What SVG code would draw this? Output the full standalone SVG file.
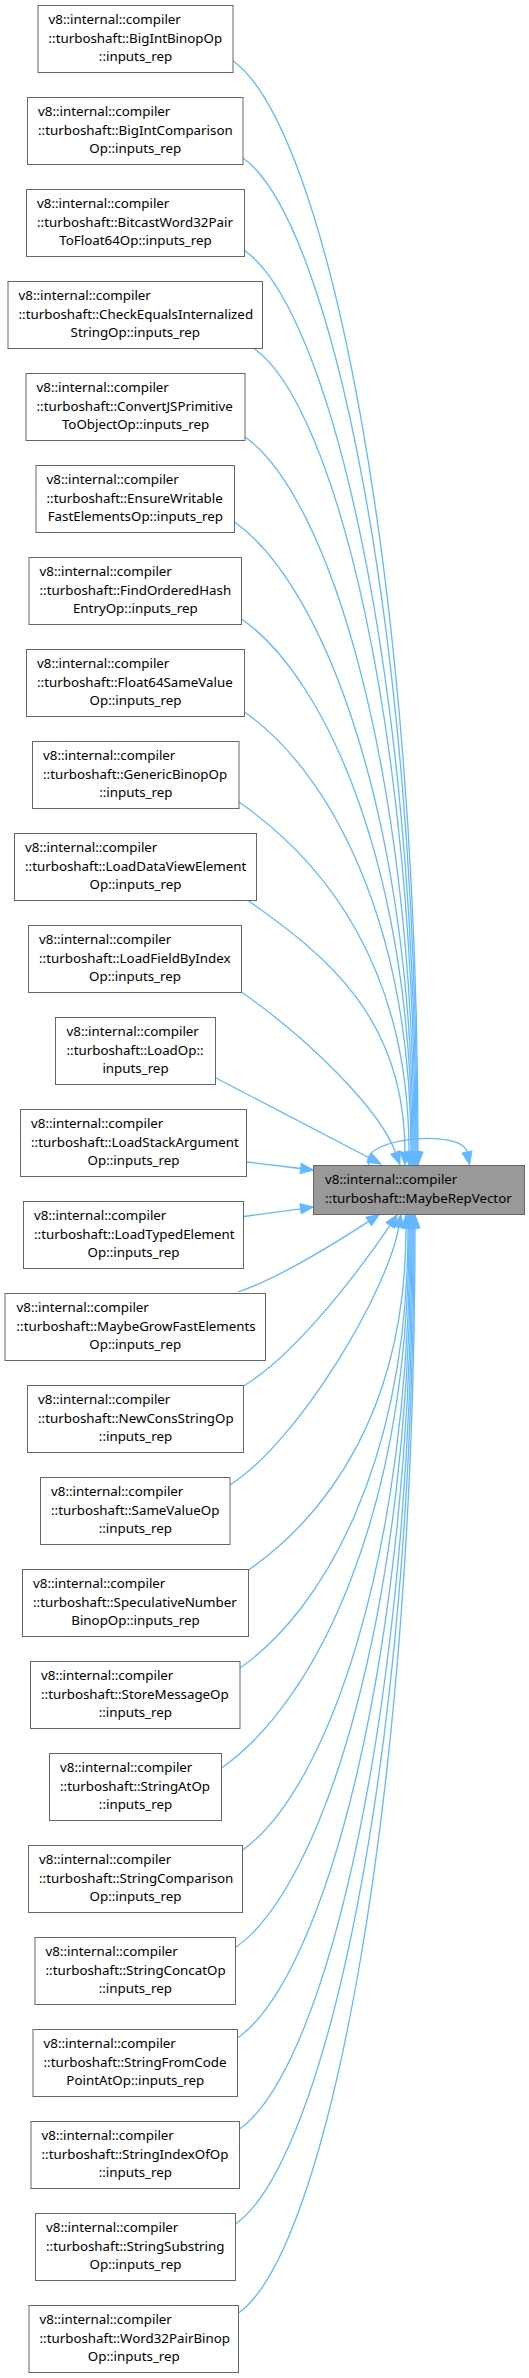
<svg xmlns="http://www.w3.org/2000/svg" width="529" height="2378" viewBox="0 0 529 2378">
<style>
.n rect{fill:#fff;stroke:#666;stroke-width:1}
.t rect{fill:#999;stroke:#666;stroke-width:1}
text{font-family:"Noto Sans","Open Sans","DejaVu Sans",sans-serif;font-size:13.33px;fill:#000}
.c{text-anchor:middle}
.e path{fill:none;stroke:#63b8ff;stroke-width:1.3;marker-end:url(#ah)}
</style>
<defs>
<marker id="ah" markerUnits="userSpaceOnUse" viewBox="0 0 13 10" markerWidth="13" markerHeight="10" refX="0" refY="5" orient="auto" overflow="visible">
<path d="M0,0 L13,5 L0,10 z" fill="#63b8ff" stroke="#63b8ff" stroke-width="1"/>
</marker>
</defs>
<rect width="529" height="2378" fill="#fff"/>
<g id="edges" class="e">
<path d="M233,61 C325.5,125.8 418,573.8 418,1152"/>
<path d="M243,158 C330,218.9 417,625.2 417,1152"/>
<path d="M244.5,250.5 C330.3,310.5 416,674.2 416,1152"/>
<path d="M254,348.5 C334.5,404.9 415,726.1 415,1152"/>
<path d="M245,437 C329.5,496.2 414,773 414,1152"/>
<path d="M234.5,522 C323.8,584.5 413,818.1 413,1152"/>
<path d="M241.5,619 C326.8,678.7 412,869.5 412,1152"/>
<path d="M244.5,712 C327.8,770.3 411,918.8 411,1152"/>
<path d="M239,802 C324,861.5 409,966.5 409,1152"/>
<path d="M248,900.5 C326.5,955.5 405,1018.7 405,1152"/>
<path d="M241.5,992 C310,1040 380,1110 395.5,1152.5"/>
<path d="M214,1077 L369.5,1158"/>
<path d="M246.5,1162 L300.6,1168.5"/>
<path d="M244,1216.5 L300.6,1208.8"/>
<path d="M238,1292 C280,1278 340,1240 368.7,1221.4"/>
<path d="M243.5,1386 C300,1352 365,1262 390.1,1225.3"/>
<path d="M230,1485 C300,1440 388,1290 398.7,1227.3"/>
<path d="M248.5,1570 C327.3,1514.9 406,1409.3 406,1228"/>
<path d="M240,1668 C324,1609.2 408,1461.2 408,1228"/>
<path d="M221.5,1768 C315.3,1702.4 409,1514.2 409,1228"/>
<path d="M242.5,1850 C326.3,1791.4 410,1557.7 410,1228"/>
<path d="M235.5,1947.5 C323.3,1886.1 411,1609.3 411,1228"/>
<path d="M237.5,2038 C324.8,1976.9 412,1657.3 412,1228"/>
<path d="M239.5,2129 C326.3,2068.3 413,1705.5 413,1228"/>
<path d="M235.5,2224 C324.8,2161.5 414,1755.9 414,1228"/>
<path d="M238.5,2313 C326.8,2251.2 415,1803.1 415,1228"/>
<path d="M369,1165 C356,1138 462,1128 467,1152"/>
</g>
<g id="target" class="t">
<rect x="313.5" y="1165.5" width="211" height="49"/>
<text x="325" y="1184">v8::internal::compiler</text>
<text x="325" y="1202.7">::turboshaft::MaybeRepVector</text>
</g>
<g id="n0" class="n"><rect x="38" y="5.5" width="195" height="67"/><text x="48.5" y="24">v8::internal::compiler</text><text x="48.5" y="42.7">::turboshaft::BigIntBinopOp</text><text class="c" x="135.5" y="61.4">::inputs_rep</text></g>
<g id="n1" class="n"><rect x="27.5" y="97.5" width="215.5" height="67"/><text x="38" y="116">v8::internal::compiler</text><text x="38" y="134.7">::turboshaft::BigIntComparison</text><text class="c" x="135.3" y="153.4">Op::inputs_rep</text></g>
<g id="n2" class="n"><rect x="26.5" y="189.5" width="218" height="67"/><text x="37" y="208">v8::internal::compiler</text><text x="37" y="226.7">::turboshaft::BitcastWord32Pair</text><text class="c" x="135.5" y="245.4">ToFloat64Op::inputs_rep</text></g>
<g id="n3" class="n"><rect x="8" y="281.5" width="254.5" height="67"/><text x="18.5" y="300">v8::internal::compiler</text><text x="18.5" y="318.7">::turboshaft::CheckEqualsInternalized</text><text class="c" x="135.3" y="337.4">StringOp::inputs_rep</text></g>
<g id="n4" class="n"><rect x="26" y="373.5" width="219" height="67"/><text x="36.5" y="392">v8::internal::compiler</text><text x="36.5" y="410.7">::turboshaft::ConvertJSPrimitive</text><text class="c" x="135.5" y="429.4">ToObjectOp::inputs_rep</text></g>
<g id="n5" class="n"><rect x="36" y="465.5" width="198.5" height="67"/><text x="46.5" y="484">v8::internal::compiler</text><text x="46.5" y="502.7">::turboshaft::EnsureWritable</text><text class="c" x="135.3" y="521.4">FastElementsOp::inputs_rep</text></g>
<g id="n6" class="n"><rect x="29" y="557.5" width="212.5" height="67"/><text x="39.5" y="576">v8::internal::compiler</text><text x="39.5" y="594.7">::turboshaft::FindOrderedHash</text><text class="c" x="135.3" y="613.4">EntryOp::inputs_rep</text></g>
<g id="n7" class="n"><rect x="26.5" y="649.5" width="218" height="67"/><text x="37" y="668">v8::internal::compiler</text><text x="37" y="686.7">::turboshaft::Float64SameValue</text><text class="c" x="135.5" y="705.4">Op::inputs_rep</text></g>
<g id="n8" class="n"><rect x="32.5" y="741.5" width="206.5" height="67"/><text x="43" y="760">v8::internal::compiler</text><text x="43" y="778.7">::turboshaft::GenericBinopOp</text><text class="c" x="135.8" y="797.4">::inputs_rep</text></g>
<g id="n9" class="n"><rect x="14.5" y="833.5" width="242" height="67"/><text x="25" y="852">v8::internal::compiler</text><text x="25" y="870.7">::turboshaft::LoadDataViewElement</text><text class="c" x="135.5" y="889.4">Op::inputs_rep</text></g>
<g id="n10" class="n"><rect x="28.5" y="925.5" width="213" height="67"/><text x="39" y="944">v8::internal::compiler</text><text x="39" y="962.7">::turboshaft::LoadFieldByIndex</text><text class="c" x="135" y="981.4">Op::inputs_rep</text></g>
<g id="n11" class="n"><rect x="55.5" y="1017.5" width="160" height="67"/><text x="66.5" y="1036">v8::internal::compiler</text><text x="66.5" y="1054.7">::turboshaft::LoadOp::</text><text class="c" x="135.5" y="1073.4">inputs_rep</text></g>
<g id="n12" class="n"><rect x="20.5" y="1109.5" width="226" height="67"/><text x="31" y="1128">v8::internal::compiler</text><text x="31" y="1146.7">::turboshaft::LoadStackArgument</text><text class="c" x="133.5" y="1165.4">Op::inputs_rep</text></g>
<g id="n13" class="n"><rect x="23.5" y="1201.5" width="220" height="67"/><text x="34" y="1220">v8::internal::compiler</text><text x="34" y="1238.7">::turboshaft::LoadTypedElement</text><text class="c" x="133.5" y="1257.4">Op::inputs_rep</text></g>
<g id="n14" class="n"><rect x="5" y="1293.5" width="260.5" height="67"/><text x="16.5" y="1312">v8::internal::compiler</text><text x="16.5" y="1330.7">::turboshaft::MaybeGrowFastElements</text><text class="c" x="135.3" y="1349.4">Op::inputs_rep</text></g>
<g id="n15" class="n"><rect x="27.5" y="1385.5" width="216" height="67"/><text x="38" y="1404">v8::internal::compiler</text><text x="38" y="1422.7">::turboshaft::NewConsStringOp</text><text class="c" x="135.5" y="1441.4">::inputs_rep</text></g>
<g id="n16" class="n"><rect x="40.5" y="1477.5" width="189.5" height="67"/><text x="51" y="1496">v8::internal::compiler</text><text x="51" y="1514.7">::turboshaft::SameValueOp</text><text class="c" x="135.3" y="1533.4">::inputs_rep</text></g>
<g id="n17" class="n"><rect x="22.5" y="1569.5" width="226" height="67"/><text x="33" y="1588">v8::internal::compiler</text><text x="33" y="1606.7">::turboshaft::SpeculativeNumber</text><text class="c" x="135.5" y="1625.4">BinopOp::inputs_rep</text></g>
<g id="n18" class="n"><rect x="30.5" y="1661.5" width="209.5" height="67"/><text x="41" y="1680">v8::internal::compiler</text><text x="41" y="1698.7">::turboshaft::StoreMessageOp</text><text class="c" x="135.3" y="1717.4">::inputs_rep</text></g>
<g id="n19" class="n"><rect x="49.5" y="1753.5" width="172" height="67"/><text x="60" y="1772">v8::internal::compiler</text><text x="60" y="1790.7">::turboshaft::StringAtOp</text><text class="c" x="135.5" y="1809.4">::inputs_rep</text></g>
<g id="n20" class="n"><rect x="28.5" y="1845.5" width="214" height="67"/><text x="39" y="1864">v8::internal::compiler</text><text x="39" y="1882.7">::turboshaft::StringComparison</text><text class="c" x="135.5" y="1901.4">Op::inputs_rep</text></g>
<g id="n21" class="n"><rect x="35" y="1937.5" width="200.5" height="67"/><text x="45.5" y="1956">v8::internal::compiler</text><text x="45.5" y="1974.7">::turboshaft::StringConcatOp</text><text class="c" x="135.3" y="1993.4">::inputs_rep</text></g>
<g id="n22" class="n"><rect x="33" y="2029.5" width="204.5" height="67"/><text x="43.5" y="2048">v8::internal::compiler</text><text x="43.5" y="2066.7">::turboshaft::StringFromCode</text><text class="c" x="135.3" y="2085.4">PointAtOp::inputs_rep</text></g>
<g id="n23" class="n"><rect x="31" y="2121.5" width="208.5" height="67"/><text x="41.5" y="2140">v8::internal::compiler</text><text x="41.5" y="2158.7">::turboshaft::StringIndexOfOp</text><text class="c" x="135.3" y="2177.4">::inputs_rep</text></g>
<g id="n24" class="n"><rect x="35.5" y="2213.5" width="200" height="67"/><text x="46" y="2232">v8::internal::compiler</text><text x="46" y="2250.7">::turboshaft::StringSubstring</text><text class="c" x="135.5" y="2269.4">Op::inputs_rep</text></g>
<g id="n25" class="n"><rect x="29" y="2305.5" width="209.5" height="67"/><text x="39.5" y="2324">v8::internal::compiler</text><text x="39.5" y="2342.7">::turboshaft::Word32PairBinop</text><text class="c" x="133.8" y="2361.4">Op::inputs_rep</text></g>
</svg>
